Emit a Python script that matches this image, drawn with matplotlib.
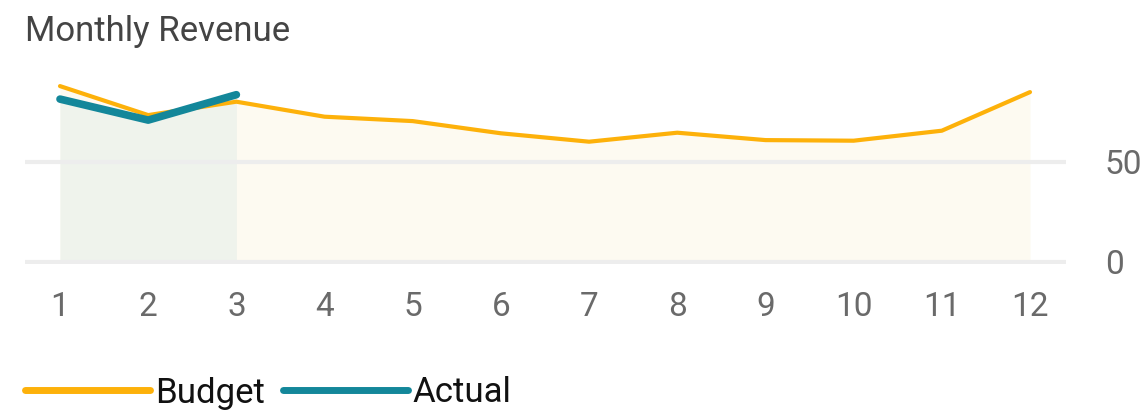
import numpy as np
import matplotlib
matplotlib.use("Agg")
import matplotlib.pyplot as plt
from matplotlib.lines import Line2D

plt.rcParams['font.family'] = ['Roboto', 'DejaVu Sans']

months = [1, 2, 3, 4, 5, 6, 7, 8, 9, 10, 11, 12]
budget = [87.8, 73.3, 80.0, 72.5, 70.3, 64.2, 60.0, 64.5, 60.8, 60.5, 65.5, 84.8]
actual_months = [1, 2, 3]
actual = [81.3, 70.8, 83.5]

c_budget = '#FDB10A'
c_actual = '#13879A'

fig = plt.figure(figsize=(11.43, 4.16), dpi=100)
ax = fig.add_axes([25/1143, 1-263.7/416, (1066-25)/1143, 202/416])

ax.fill_between(months, budget, 0, color='#FDFAF1', lw=0, zorder=1)
ax.fill_between(actual_months, actual, 0, color='#EFF3EC', lw=0, zorder=2)

for yv in [0, 50]:
    ax.axhline(yv, color='#EDEDED', lw=3, zorder=3)

ax.plot(months, budget, color=c_budget, lw=3, solid_capstyle='round', solid_joinstyle='round', zorder=4)
ax.plot(actual_months, actual, color=c_actual, lw=5.5, solid_capstyle='round', solid_joinstyle='round', zorder=5)

ax.set_xlim(1 - 35/88.18, 12 + 36/88.18)
ax.set_ylim(-1, 100)

ax.set_xticks(months)
ax.set_xticklabels([str(m) for m in months], fontsize=24, color='#6A6A6A')
ax.tick_params(axis='x', length=0, pad=20)
ax.yaxis.tick_right()
ax.set_yticks([0, 50])
ax.set_yticklabels(['0', '50'], fontsize=24, color='#6A6A6A')
ax.tick_params(axis='y', length=0, pad=28)
for s in ax.spines.values():
    s.set_visible(False)

fig.text(25/1143, 1-31/416, 'Monthly Revenue', fontsize=25, color='#444444',
         va='center', ha='left')

handles = [Line2D([], [], color=c_budget, lw=5, solid_capstyle='round'),
           Line2D([], [], color=c_actual, lw=5, solid_capstyle='round')]
fig.legend(handles, ['Budget', 'Actual'], loc='center left', bbox_to_anchor=(-6/1143, 1-393/416),
           ncol=2, frameon=False, fontsize=25, handlelength=3.6, handletextpad=0.15,
           columnspacing=0.5, labelcolor='#111111')

fig.savefig('out.png', dpi=100)
